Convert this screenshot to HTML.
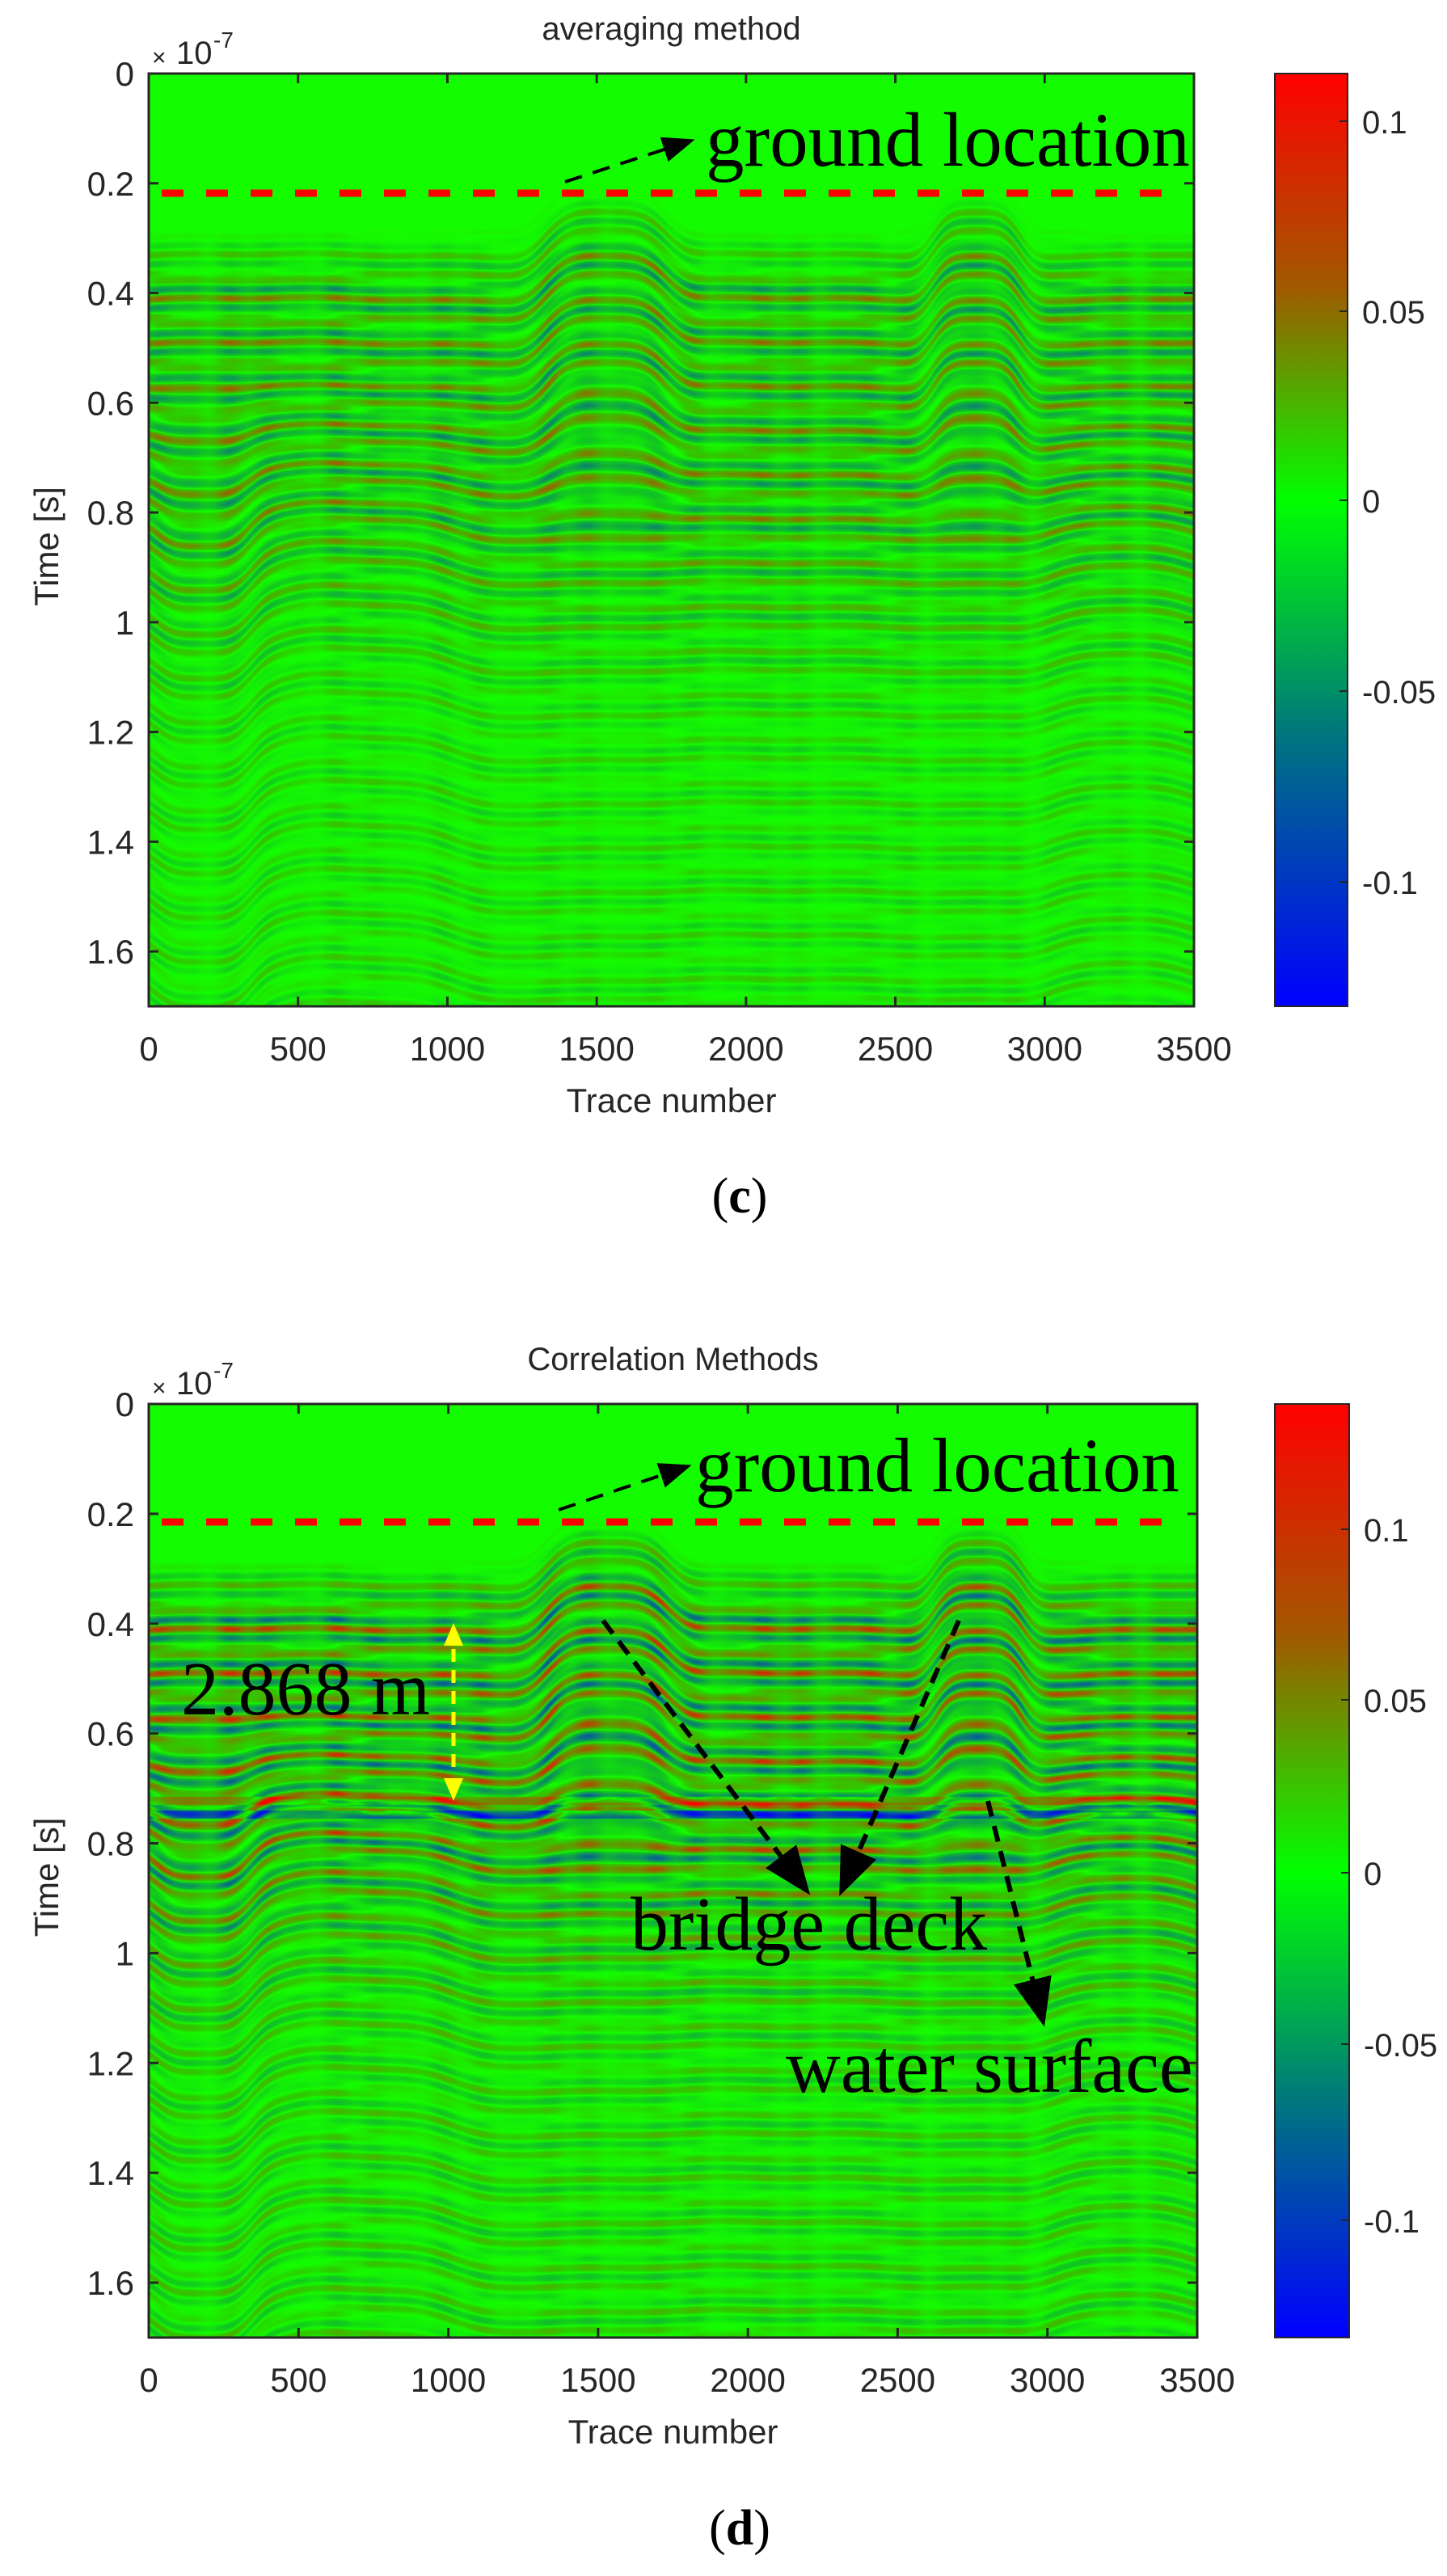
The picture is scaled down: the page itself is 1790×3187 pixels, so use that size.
<!DOCTYPE html>
<html><head><meta charset="utf-8"><style>
html,body{margin:0;padding:0;background:#fff;}
#wrap{position:relative;width:1790px;height:3187px;overflow:hidden;background:#fff;}
canvas{position:absolute;}
svg{position:absolute;left:0;top:0;}
</style></head><body><div id="wrap">
<canvas id="c1" width="1293" height="1154" style="left:184px;top:91px"></canvas>
<canvas id="c2" width="1297" height="1155" style="left:184px;top:1737px"></canvas>
<svg width="1790" height="3187" viewBox="0 0 1790 3187" xmlns="http://www.w3.org/2000/svg">
<defs>
<linearGradient id="cb1" x1="0" y1="0" x2="0" y2="1">
<stop offset="0" stop-color="#ff0000"/><stop offset="0.23" stop-color="#a05a00"/><stop offset="0.458" stop-color="#00ff00"/><stop offset="0.70" stop-color="#007a7a"/><stop offset="1" stop-color="#0000ff"/></linearGradient>
<linearGradient id="cb2" x1="0" y1="0" x2="0" y2="1">
<stop offset="0" stop-color="#ff0000"/><stop offset="0.25" stop-color="#a05a00"/><stop offset="0.502" stop-color="#00ff00"/><stop offset="0.74" stop-color="#007a7a"/><stop offset="1" stop-color="#0000ff"/></linearGradient>
<marker id="ah" markerWidth="10" markerHeight="8" refX="8" refY="4" orient="auto" markerUnits="strokeWidth"><path d="M0,0 L10,4 L0,8 z" fill="#000"/></marker>
</defs>
<g id="ov"></g>
</svg>
</div>
<script>
(function(){
function bump(n,c,w){var d=(n-c)/w;return Math.exp(-d*d*d*d);}
function draw(id,W,H,mode){
 var cv=document.getElementById(id),ctx=cv.getContext('2d'),img=ctx.createImageData(W,H),d=img.data;
 var hs=new Float32Array(W),ms=new Float32Array(W),ph=new Float32Array(W),lo=new Float32Array(W);
 for(var x=0;x<W;x++){var n=x/W*3500;
  hs[x]=-0.08*(bump(n,1530,220)+bump(n,2770,160));
  lo[x]=0.05*bump(n,180,170)-0.04*bump(n,700,330)-0.03*bump(n,3250,250);
  ms[x]=0.75+0.25*Math.sin(n/37)*Math.sin(n/113)+0.15*Math.sin(n/19);
  ph[x]=Math.sin(n/260)*1.3+Math.sin(n/71)*0.6;}
 var sc=(mode==1)?0.55:0.8;
 for(var y=0;y<H;y++){var t=y/H*1.7;
  var wUp=t<0.55?1:Math.max(0,1-(t-0.55)/0.3);
  for(var x=0;x<W;x++){
   var tt=t-hs[x]*wUp-lo[x]*(1-wUp);var A;
   if(tt<0.28)A=0;else if(tt<0.38)A=(tt-0.28)/0.1*0.7;else if(tt<0.8)A=1;else A=Math.max(0.28,Math.exp(-(tt-0.8)/0.3));
   var v=A*ms[x]*(0.62*Math.sin(2*Math.PI*tt/0.04)+0.38*Math.sin(2*Math.PI*tt/0.027+ph[x]))*sc;
   if(v<0)v*=0.75;
   if(mode==2&&t>0.7&&t<0.77){v+= (t>0.74&&t<0.755)?-0.45:((t>0.715&&t<0.73)?0.3:0);}
   if(v>1)v=1;if(v<-1)v=-1;
   var r,g,b,i=(y*W+x)*4;
   if(v>=0){r=20+235*v;g=228*(1-v);b=0;if(v<0.1)g+=25*(1-v/0.1);}
   else{var a=-v;r=20*(1-a);g=228*(1-a)+ (a<0.1?25*(1-a/0.1):0);b=255*a;}
   d[i]=r;d[i+1]=g;d[i+2]=b;d[i+3]=255;}}
 ctx.putImageData(img,0,0);
}
draw('c1',1293,1154,1);draw('c2',1297,1155,2);

var ov=document.getElementById('ov'),s='';
var F='font-family="Liberation Sans, Arial, sans-serif" fill="#262626"';
var T='font-family="Liberation Serif, Times New Roman, serif" fill="#000"';
function panel(L,R,Tp,B,cbL,cbR,title,ticks,grad){
 var H=B-Tp,W=R-L;
 s+='<text x="'+((L+R)/2)+'" y="'+(Tp-42)+'" text-anchor="middle" font-size="40" '+F+'>'+title+'</text>';
 s+='<rect x="'+L+'" y="'+Tp+'" width="'+W+'" height="'+H+'" fill="none" stroke="#262626" stroke-width="3"/>';
 for(var k=0;k<=8;k++){var y=Tp+k*0.2/1.7*H;
  s+='<line x1="'+L+'" y1="'+y+'" x2="'+(L+12)+'" y2="'+y+'" stroke="#262626" stroke-width="3"/>';
  s+='<line x1="'+(R-12)+'" y1="'+y+'" x2="'+R+'" y2="'+y+'" stroke="#262626" stroke-width="3"/>';
  var lb=(k==0)?'0':(k==5?'1':(k*0.2).toFixed(1).replace(/\.0$/,''));
  s+='<text x="'+(L-18)+'" y="'+(y+15)+'" text-anchor="end" font-size="42" '+F+'>'+lb+'</text>';}
 for(var k=0;k<=7;k++){var x=L+k/7*W;
  s+='<line x1="'+x+'" y1="'+B+'" x2="'+x+'" y2="'+(B-12)+'" stroke="#262626" stroke-width="3"/>';
  s+='<line x1="'+x+'" y1="'+Tp+'" x2="'+x+'" y2="'+(Tp+12)+'" stroke="#262626" stroke-width="3"/>';
  s+='<text x="'+x+'" y="'+(B+67)+'" text-anchor="middle" font-size="42" '+F+'>'+(k*500)+'</text>';}
 s+='<text x="'+((L+R)/2)+'" y="'+(B+131)+'" text-anchor="middle" font-size="42" '+F+'>Trace number</text>';
 s+='<text transform="translate(72,'+((Tp+B)/2+8)+') rotate(-90)" text-anchor="middle" font-size="42" '+F+'>Time [s]</text>';
 s+='<text x="188" y="'+(Tp-10)+'" font-size="30" '+F+'>×</text><text x="218" y="'+(Tp-12)+'" font-size="40" '+F+'>10</text><text x="264" y="'+(Tp-32)+'" font-size="28" '+F+'>-7</text>';
 s+='<rect x="'+cbL+'" y="'+Tp+'" width="'+(cbR-cbL)+'" height="'+H+'" fill="url(#'+grad+')" stroke="#262626" stroke-width="2"/>';
 for(var j=0;j<ticks.length;j++){var ty=ticks[j][1];
  s+='<line x1="'+(cbR-10)+'" y1="'+ty+'" x2="'+cbR+'" y2="'+ty+'" stroke="#262626" stroke-width="2"/>';
  s+='<text x="'+(cbR+18)+'" y="'+(ty+15)+'" font-size="40" '+F+'>'+ticks[j][0]+'</text>';}
}
panel(184,1477,91,1245,1577,1667,'averaging method',[['0.1',150],['0.05',385],['0',619],['-0.05',855],['-0.1',1091]],'cb1');
panel(184,1481,1737,2892,1577,1669,'Correlation Methods',[['0.1',1892],['0.05',2103],['0',2317],['-0.05',2529],['-0.1',2747]],'cb2');
s+='<line x1="200" y1="239" x2="1445" y2="239" stroke="#ff0000" stroke-width="9" stroke-dasharray="27,28"/>';
s+='<line x1="200" y1="1883" x2="1445" y2="1883" stroke="#ff0000" stroke-width="9" stroke-dasharray="27,28"/>';
s+='<text x="873" y="205" font-size="95" '+T+'>ground location</text>';
s+='<line x1="699" y1="225" x2="852" y2="175" stroke="#000" stroke-width="4" stroke-dasharray="22,14" marker-end="url(#ah)"/>';
s+='<text x="860" y="1845" font-size="95" '+T+'>ground location</text>';
s+='<line x1="691" y1="1868" x2="848" y2="1815" stroke="#000" stroke-width="4" stroke-dasharray="22,14" marker-end="url(#ah)"/>';
s+='<text x="915" y="1500" text-anchor="middle" font-size="62" '+T+'>(<tspan font-weight="bold">c</tspan>)</text>';
s+='<text x="915" y="3148" text-anchor="middle" font-size="62" '+T+'>(<tspan font-weight="bold">d</tspan>)</text>';
s+='<text x="224" y="2121" font-size="94" '+T+'>2.868 m</text>';
s+='<line x1="561" y1="2040" x2="561" y2="2196" stroke="#ffff00" stroke-width="5" stroke-dasharray="16,10"/>';
s+='<path d="M561,2008 L549,2036 L573,2036 z M561,2228 L549,2200 L573,2200 z" fill="#ffff00"/>';
s+='<text x="780" y="2412" font-size="94" '+T+'>bridge deck</text>';
s+='<text x="972" y="2588" font-size="94" '+T+'>water surface</text>';
s+='<line x1="746" y1="2005" x2="995" y2="2335" stroke="#000" stroke-width="6" stroke-dasharray="20,12" marker-end="url(#ah)"/>';
s+='<line x1="1186" y1="2005" x2="1043" y2="2335" stroke="#000" stroke-width="6" stroke-dasharray="20,12" marker-end="url(#ah)"/>';
s+='<line x1="1222" y1="2228" x2="1289" y2="2496" stroke="#000" stroke-width="6" stroke-dasharray="20,12" marker-end="url(#ah)"/>';
ov.innerHTML=s;
})();
</script>
</body></html>
